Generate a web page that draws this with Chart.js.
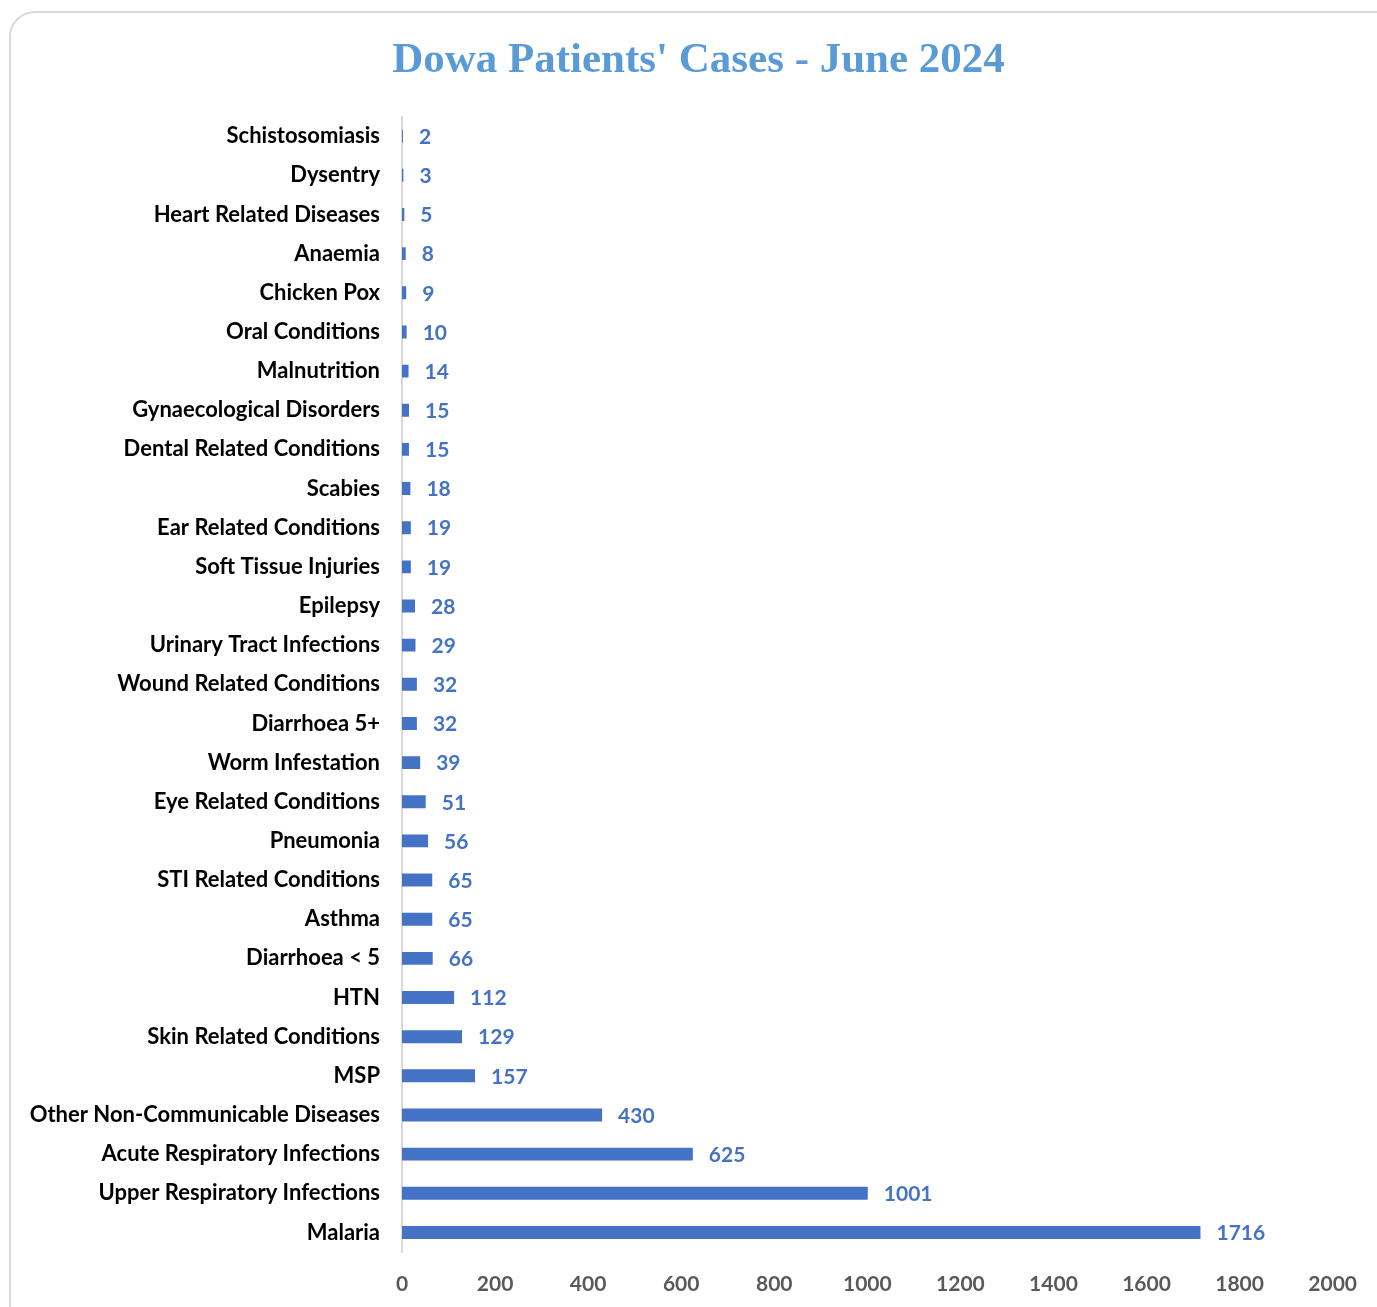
<!DOCTYPE html>
<html>
<head>
<meta charset="utf-8">
<script src="https://cdn.jsdelivr.net/npm/chart.js@4"></script>
<style>
  html, body { margin: 0; padding: 0; background: #fff; overflow: hidden; }
  #frame { position: absolute; left: 9px; top: 11px; width: 1420px; height: 1340px;
           border: 2px solid #d9d9d9; border-radius: 26px; box-sizing: border-box; }
  #wrap { position: absolute; left: 0; top: 0; width: 1377px; height: 1307px; }
</style>
</head>
<body>
<div id="frame"></div>
<div id="wrap"><canvas id="c" width="1377" height="1307"></canvas></div>
<script>
const categories = [
  "Schistosomiasis", "Dysentry", "Heart Related Diseases", "Anaemia", "Chicken Pox",
  "Oral Conditions", "Malnutrition", "Gynaecological Disorders", "Dental Related Conditions",
  "Scabies", "Ear Related Conditions", "Soft Tissue Injuries", "Epilepsy",
  "Urinary Tract Infections", "Wound Related Conditions", "Diarrhoea 5+", "Worm Infestation",
  "Eye Related Conditions", "Pneumonia", "STI Related Conditions", "Asthma", "Diarrhoea < 5",
  "HTN", "Skin Related Conditions", "MSP", "Other Non-Communicable Diseases",
  "Acute Respiratory Infections", "Upper Respiratory Infections", "Malaria"
];
const cases = [2, 3, 5, 8, 9, 10, 14, 15, 15, 18, 19, 19, 28, 29, 32, 32, 39, 51, 56, 65, 65, 66, 112, 129, 157, 430, 625, 1001, 1716];
const xTicks = [0, 200, 400, 600, 800, 1000, 1200, 1400, 1600, 1800, 2000];
const titleText = "Dowa Patients' Cases - June 2024";

const labelFont = "Lato";

const valueLabels = {
  id: 'valueLabels',
  afterDatasetsDraw(chart) {
    const ctx = chart.ctx;
    const meta = chart.getDatasetMeta(0);
    ctx.save();
    ctx.font = "bold 21px " + labelFont;
    ctx.fillStyle = "#4472C4";
    ctx.textAlign = "left";
    ctx.textBaseline = "middle";
    meta.data.forEach((bar, i) => {
      ctx.fillText(String(cases[i]), bar.x + 16, bar.y + 1);
    });
    ctx.restore();
  }
};

new Chart(document.getElementById('c'), {
  type: 'bar',
  data: {
    labels: categories,
    datasets: [{
      data: cases,
      backgroundColor: '#4472C4',
      borderWidth: 0,
      categoryPercentage: 0.5,
      barPercentage: 0.66
    }]
  },
  options: {
    indexAxis: 'y',
    responsive: false,
    animation: false,
    layout: { padding: { left: 20, right: 0, top: 0, bottom: 0 } },
    plugins: {
      legend: { display: false },
      tooltip: { enabled: false },
      title: {
        display: true,
        text: titleText,
        color: '#5B9BD5',
        font: { family: 'Liberation Serif', weight: 'bold', size: 43, lineHeight: 1.2 },
        padding: { top: 35, bottom: 30 }
      }
    },
    scales: {
      x: {
        min: 0, max: 2000,
        afterBuildTicks(scale) { scale.ticks = xTicks.map(v => ({ value: v })); },
        grid: { display: false, drawTicks: false },
        border: { display: false },
        ticks: {
          color: '#595959',
          font: { family: labelFont, weight: 'bold', size: 21 },
          padding: 20,
          maxRotation: 0,
          callback: (v) => String(v)
        },
        afterFit(scale) { scale.height = 55; }
      },
      y: {
        grid: { display: false, drawTicks: false },
        border: { display: true, color: '#d9d9d9', width: 2 },
        ticks: {
          color: '#000000',
          font: { family: labelFont, weight: 'bold', size: 22 },
          padding: 22,
          autoSkip: false
        },
        afterFit(scale) { scale.width = 382; }
      }
    }
  },
  plugins: [valueLabels]
});
</script>
</body>
</html>
